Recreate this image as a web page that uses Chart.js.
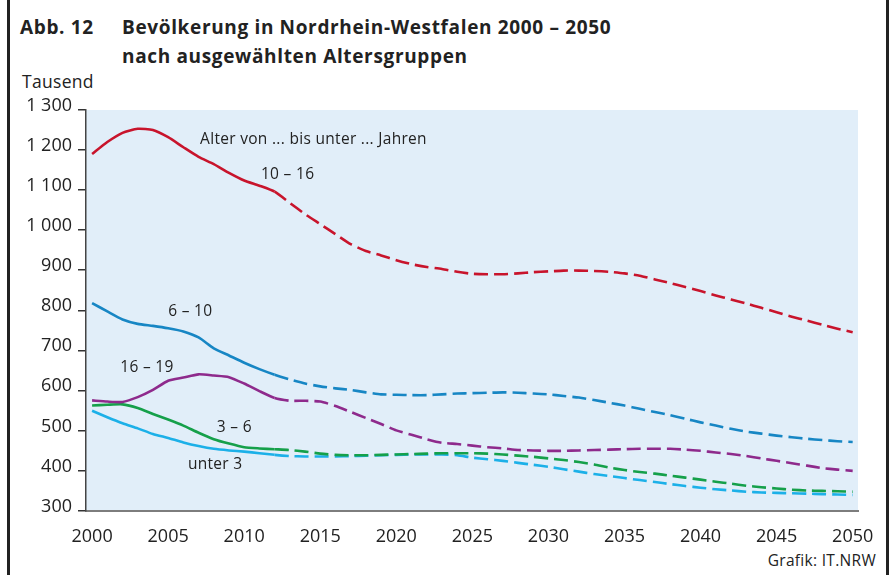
<!DOCTYPE html>
<html lang="de">
<head>
<meta charset="utf-8">
<title>Bevölkerung in Nordrhein-Westfalen 2000 – 2050</title>
<script src="https://cdn.jsdelivr.net/npm/chart.js@4.4.1/dist/chart.umd.min.js"></script>
<style>
  html, body { margin: 0; padding: 0; background: #fff; }
  body { font-family: "Open Sans", "Noto Sans", sans-serif; color: #222; }
  #wrap { position: relative; width: 895px; height: 575px; overflow: hidden; }
  #chart { position: absolute; left: 0; top: 0; }
  .frame { position: absolute; top: 0; width: 3px; height: 575px; background: #222; }
  .title { position: absolute; font-weight: 700; font-size: 19px; letter-spacing: 0.65px; white-space: nowrap; }
  .unit { position: absolute; left: 22px; top: 69px; font-size: 17.5px; letter-spacing: 0.3px; }
  .source { position: absolute; right: 19px; top: 549px; font-size: 15.5px; letter-spacing: 0.3px; }
</style>
</head>
<body>
<div id="wrap">
  <div class="frame" style="left:7px"></div>
  <div class="frame" style="left:886px"></div>
  <div class="title" style="left:20px; top:14px">Abb. 12</div>
  <div class="title" style="left:122px; top:14px">Bevölkerung in Nordrhein-Westfalen 2000 – 2050</div>
  <div class="title" style="left:122px; top:43px">nach ausgewählten Altersgruppen</div>
  <div class="unit">Tausend</div>
  <div class="source">Grafik: IT.NRW</div>
  <canvas id="chart" width="895" height="575"></canvas>
</div>

<script>
/* ======================================================
   Data (Tausend Personen, ab 2012 Vorausberechnung)
=========================================================*/
const years = [
  2000, 2001, 2002, 2003, 2004, 2005, 2006, 2007, 2008, 2009,
  2010, 2011, 2012, 2013, 2014, 2015, 2016, 2017, 2018, 2019,
  2020, 2021, 2022, 2023, 2024, 2025, 2026, 2027, 2028, 2029,
  2030, 2031, 2032, 2033, 2034, 2035, 2036, 2037, 2038, 2039,
  2040, 2041, 2042, 2043, 2044, 2045, 2046, 2047, 2048, 2049, 2050
];

const age10to16 = [
  1190, 1220, 1243, 1253, 1250, 1232, 1207, 1183, 1165, 1143,
  1124, 1111, 1096, 1068, 1040, 1015, 990, 965, 948, 937,
  925, 915, 908, 903, 896, 891, 890, 890, 892, 895,
  897, 899, 899, 898, 896, 892, 886, 877, 868, 858,
  848, 837, 827, 817, 806, 795, 784, 774, 764, 754, 745
];

const age6to10 = [
  818, 797, 777, 766, 761, 755, 747, 732, 705, 687,
  669, 653, 639, 627, 617, 610, 605, 601, 595, 590,
  589, 588, 588, 590, 592, 593, 594, 595, 594, 592,
  590, 586, 582, 576, 569, 562, 554, 546, 538, 529,
  520, 512, 504, 497, 492, 487, 483, 479, 476, 473, 471
];

const age16to19 = [
  575, 572, 571, 583, 601, 624, 632, 640, 637, 633,
  617, 598, 581, 574, 574, 572, 561, 546, 531, 516,
  500, 489, 478, 469, 466, 462, 458, 455, 451, 450,
  449, 449, 450, 451, 452, 453, 454, 454, 454, 452,
  449, 445, 441, 436, 430, 424, 418, 412, 406, 402, 399
];

const age3to6 = [
  562, 564, 565, 556, 541, 527, 512, 494, 478, 467,
  458, 455, 453, 451, 447, 442, 439, 438, 438, 439,
  440, 441, 442, 443, 443, 443, 442, 440, 437, 434,
  430, 426, 421, 415, 407, 401, 396, 392, 387, 382,
  377, 372, 367, 362, 358, 355, 352, 350, 349, 348, 347
];

const ageUnder3 = [
  549, 533, 518, 505, 491, 481, 470, 461, 454, 450,
  447, 443, 439, 436, 435, 435, 435, 436, 437, 438,
  439, 440, 440, 440, 438, 432, 428, 424, 419, 414,
  409, 403, 397, 391, 386, 381, 376, 371, 366, 361,
  357, 353, 350, 347, 345, 344, 343, 342, 341, 340, 339
];

const xTicks = [2000, 2005, 2010, 2015, 2020, 2025, 2030, 2035, 2040, 2045, 2050];
const yTicks = [300, 400, 500, 600, 700, 800, 900, 1000, 1100, 1200, 1300];

const projectionStart = 2012;

/* ======================================================
   Series styling + in-chart labels
=========================================================*/
const series = [
  { name: "10 – 16", values: age10to16, color: "#c8142c" },
  { name: "6 – 10", values: age6to10, color: "#1786c4" },
  { name: "16 – 19", values: age16to19, color: "#8e2a8c" },
  { name: "3 – 6", values: age3to6, color: "#15a04a" },
  { name: "unter 3", values: ageUnder3, color: "#1cb0e8" }
];

// left edge (year) and vertical centre (value) of each text
const notes = [
  { text: "Alter von ... bis unter ... Jahren", x: 2007.1, y: 1226 },
  { text: "10 – 16", x: 2011.1, y: 1139 },
  { text: "6 – 10", x: 2005.0, y: 796 },
  { text: "16 – 19", x: 2001.85, y: 656 },
  { text: "3 – 6", x: 2008.2, y: 508 },
  { text: "unter 3", x: 2006.3, y: 415 }
];

const FONT = '"Open Sans", "Noto Sans", sans-serif';

function formatThousands(v) {
  if (v < 1000) return String(v);
  return Math.floor(v / 1000) + " " + String(v % 1000).padStart(3, "0");
}

/* ======================================================
   Plugins: plot background + notes
=========================================================*/
const plotBackground = {
  id: "plotBackground",
  beforeDraw(chart) {
    const { ctx, chartArea: a } = chart;
    ctx.save();
    ctx.fillStyle = "#e1eef9";
    ctx.fillRect(a.left, a.top, a.right - a.left, a.bottom - a.top);
    ctx.restore();
  }
};

const noteLabels = {
  id: "noteLabels",
  afterDatasetsDraw(chart) {
    const { ctx, scales } = chart;
    ctx.save();
    ctx.font = "15.5px " + FONT;
    ctx.fillStyle = "#222";
    ctx.textAlign = "left";
    ctx.textBaseline = "middle";
    if ("letterSpacing" in ctx) ctx.letterSpacing = "0.3px";
    notes.forEach((n) => {
      ctx.fillText(n.text, scales.x.getPixelForValue(n.x), scales.y.getPixelForValue(n.y));
    });
    ctx.restore();
  }
};

/* ======================================================
   Chart
=========================================================*/
const datasets = series.map((s) => ({
  label: s.name,
  data: years.map((yr, i) => ({ x: yr, y: s.values[i] })),
  borderColor: s.color,
  borderWidth: 2.6,
  pointRadius: 0,
  tension: 0.2,
  fill: false,
  segment: {
    borderDash: (ctx) => (ctx.p0.parsed.x >= projectionStart ? [14, 6] : undefined)
  }
}));

new Chart(document.getElementById("chart"), {
  type: "line",
  data: { datasets: datasets },
  options: {
    responsive: false,
    animation: false,
    layout: { padding: { top: 110, right: 37, bottom: 0, left: 0 } },
    plugins: {
      legend: { display: false },
      tooltip: { enabled: false },
      title: { display: false }
    },
    scales: {
      x: {
        type: "linear",
        min: 1999.6,
        max: 2050.35,
        afterBuildTicks: (scale) => {
          scale.ticks = xTicks.map((v) => ({ value: v }));
        },
        afterFit: (scale) => {
          scale.height = 64.5;
        },
        grid: { display: false },
        border: { display: true, color: "#7d7d7d", width: 2 },
        ticks: {
          color: "#222",
          padding: 8,
          maxRotation: 0,
          autoSkip: false,
          font: { family: FONT, size: 18 },
          callback: (v) => String(v)
        }
      },
      y: {
        min: 300,
        max: 1300,
        afterBuildTicks: (scale) => {
          scale.ticks = yTicks.map((v) => ({ value: v }));
        },
        afterFit: (scale) => {
          scale.width = 86;
        },
        grid: {
          drawOnChartArea: false,
          drawTicks: true,
          tickLength: 8,
          color: "#333",
          lineWidth: 1.5
        },
        border: { display: true, color: "#444", width: 1.5 },
        ticks: {
          color: "#222",
          padding: 6,
          labelOffset: -4,
          autoSkip: false,
          font: { family: FONT, size: 18 },
          callback: (v) => formatThousands(v)
        }
      }
    }
  },
  plugins: [plotBackground, noteLabels]
});
</script>
</body>
</html>
